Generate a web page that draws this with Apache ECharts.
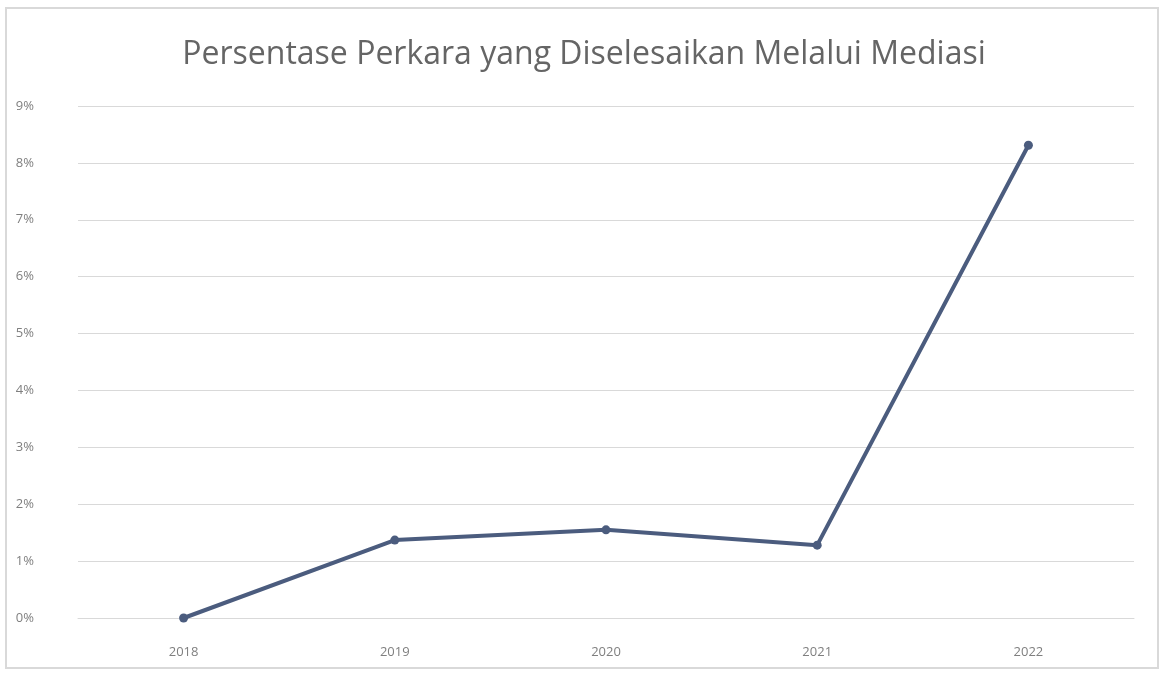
<!DOCTYPE html>
<html>
<head>
<meta charset="utf-8">
<script src="https://cdn.jsdelivr.net/npm/echarts@6/dist/echarts.min.js"></script>
<style>
html,body{margin:0;padding:0;background:#fff;}
#c{width:1168px;height:676px;}
</style>
</head>
<body>
<div id="c"></div>
<script>
const titleText = 'Persentase Perkara yang Diselesaikan Melalui Mediasi';
const years = ['2018', '2019', '2020', '2021', '2022'];
const persen = [0.0, 1.37, 1.55, 1.28, 8.31];
const yMin = 0, yMax = 9, yStep = 1;

const chart = echarts.init(document.getElementById('c'));
chart.setOption({
  backgroundColor: '#ffffff',
  animation: false,
  graphic: [{
    type: 'rect',
    shape: { x: 6, y: 8, width: 1152, height: 660 },
    style: { fill: 'none', stroke: '#d9d9d9', lineWidth: 2 },
    silent: true
  }],
  title: {
    text: titleText,
    left: 'center',
    top: 34,
    textStyle: { fontFamily: 'Open Sans', fontSize: 32, fontWeight: 'normal', color: '#656565' }
  },
  grid: { left: 78, right: 34, top: 106, bottom: 58 },
  xAxis: {
    type: 'category',
    data: years,
    boundaryGap: true,
    axisLine: { show: true, lineStyle: { color: '#d9d9d9', width: 1 } },
    axisTick: { show: false },
    axisLabel: { color: '#7f7f7f', fontSize: 13, fontFamily: 'Open Sans', margin: 28 }
  },
  yAxis: {
    type: 'value',
    min: yMin, max: yMax, interval: yStep,
    axisLine: { show: false },
    axisTick: { show: false },
    axisLabel: { color: '#7f7f7f', fontSize: 13, fontFamily: 'Open Sans', margin: 44, formatter: v => v + '%' },
    splitLine: { lineStyle: { color: '#d9d9d9', width: 1 } }
  },
  series: [{
    type: 'line',
    data: persen,
    symbol: 'circle',
    symbolSize: 9,
    lineStyle: { color: '#4b5c7e', width: 4 },
    itemStyle: { color: '#4b5c7e' }
  }]
});
</script>
</body>
</html>
